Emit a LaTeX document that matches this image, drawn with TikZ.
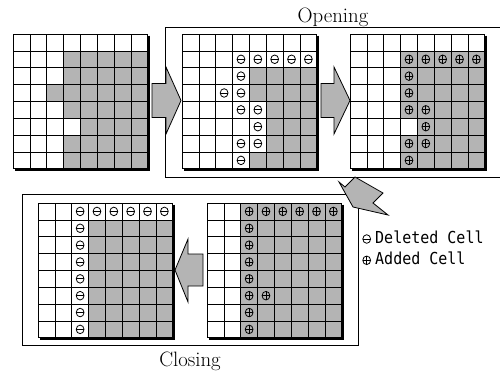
\documentclass[tikz,border=0pt]{standalone}
\usepackage{fontspec}
\newfontfamily\legfont{DejaVu Sans Mono}
\usetikzlibrary{calc}
\definecolor{cellgray}{RGB}{180,180,180}
\def\cs{16.85}
\tikzset{
  gridline/.style={line width=0.7pt, draw=black},
  shadowline/.style={line width=2pt, draw=black},
  symline/.style={line width=0.8pt, draw=black},
  framebox/.style={line width=1pt, draw=black},
  blockarrow/.style={fill=cellgray, draw=black, line width=0.8pt, line join=miter},
  title/.style={font=\fontsize{20.8}{24}\selectfont, inner sep=0pt, anchor=base},
  legtext/.style={font=\legfont\fontsize{15}{18}\selectfont, inner sep=0pt, anchor=base west}
}
\newcommand\msym[1]{\begin{scope}[shift={(#1)}]
  \draw[symline] (0,0) ellipse [x radius=3.9pt, y radius=4.3pt];
  \draw[symline] (-3.9,0) -- (3.9,0);
\end{scope}}
\newcommand\psym[1]{\begin{scope}[shift={(#1)}]
  \draw[symline] (0,0) ellipse [x radius=3.9pt, y radius=4.3pt];
  \draw[symline] (-3.9,0) -- (3.9,0);
  \draw[symline] (0,-4.3) -- (0,4.3);
\end{scope}}
\newcommand\cellgrid[2]{\begin{scope}[shift={(#1)}]
  \foreach \r/\a/\b in {#2} {\fill[cellgray] ({(\a-1)*\cs},{(\r-1)*\cs}) rectangle ({\b*\cs},{\r*\cs});}
  \foreach \i in {0,...,8} {
    \draw[gridline] ({\i*\cs},0) -- ({\i*\cs},{8*\cs});
    \draw[gridline] (0,{\i*\cs}) -- ({8*\cs},{\i*\cs});
  }
  \draw[shadowline] ({8*\cs+0.8},1.5) -- ({8*\cs+0.8},{8*\cs+0.8}) -- (1.5,{8*\cs+0.8});
\end{scope}}
\begin{document}
\begin{tikzpicture}[x=1pt,y=-1pt]
\useasboundingbox (0,0) rectangle (500,373);
% frames
\draw[framebox] (502,27) -- (165,27) -- (165,177) -- (502,177);
\draw[framebox] (22,194) rectangle (358,345);
% grid 1 (original)
\cellgrid{13,34}{2/4/8,3/4/8,4/3/8,5/4/8,6/5/8,7/4/8,8/4/8}
% grid 2 (erosion)
\cellgrid{182,34}{3/5/8,4/5/8,5/6/8,6/6/8,7/6/8,8/5/8}
\begin{scope}[shift={(182,34)}]
\foreach \c/\r in {4/2,5/2,6/2,7/2,8/2,4/3,3/4,4/4,4/5,5/5,5/6,4/7,5/7,4/8}
  {\msym{{(\c-0.5)*\cs},{(\r-0.5)*\cs}}}
\end{scope}
% grid 3 (dilation)
\cellgrid{350,34}{2/4/8,3/4/8,4/4/8,5/4/8,6/5/8,7/4/8,8/4/8}
\begin{scope}[shift={(350,34)}]
\foreach \c/\r in {4/2,5/2,6/2,7/2,8/2,4/3,4/4,4/5,5/5,5/6,4/7,5/7,4/8}
  {\psym{{(\c-0.5)*\cs},{(\r-0.5)*\cs}}}
\end{scope}
% grid 5 (closing: dilation)
\cellgrid{207,203}{1/3/8,2/3/8,3/3/8,4/3/8,5/3/8,6/3/8,7/3/8,8/3/8}
\begin{scope}[shift={(207,203)}]
\foreach \c/\r in {3/1,4/1,5/1,6/1,7/1,8/1,3/2,3/3,3/4,3/5,3/6,3/7,3/8,4/6}
  {\psym{{(\c-0.5)*\cs},{(\r-0.5)*\cs}}}
\end{scope}
% grid 4 (closing: erosion)
\cellgrid{38,203}{2/4/8,3/4/8,4/4/8,5/4/8,6/4/8,7/4/8,8/4/8}
\begin{scope}[shift={(38,203)}]
\foreach \c/\r in {3/1,4/1,5/1,6/1,7/1,8/1,3/2,3/3,3/4,3/5,3/6,3/7,3/8}
  {\msym{{(\c-0.5)*\cs},{(\r-0.5)*\cs}}}
\end{scope}
% block arrows
\coordinate (a1) at (181,100.5);
\draw[blockarrow] (152,83.5) -- (166,83.5) -- (166,67) -- (a1) -- (166,134) -- (166,117.5) -- (152,117.5) -- cycle;
\coordinate (a2) at (350,100.5);
\draw[blockarrow] (321,83.5) -- (334,83.5) -- (334,67) -- (a2) -- (334,134) -- (334,117.5) -- (321,117.5) -- cycle;
\coordinate (a3) at (175,270);
\draw[blockarrow] (203,254) -- (188,254) -- (188,239) -- (a3) -- (188,302) -- (188,286) -- (203,286) -- cycle;
\coordinate (a4) at (353,207);
\draw[blockarrow] (355,177) -- (383,193) -- (373,203) -- (388,215) -- (a4) -- (339,182) -- (345,187) -- cycle;
% titles
\node[title] (opening) at (333,22.7) {Opening};
\node[title] (closing) at (190,366) {Closing};
% legend
\msym{366.7,239}
\psym{366.7,260.3}
\node[legtext] (deleted) at (375,243.3) {\scalebox{1}[1.1]{Deleted Cell}};
\node[legtext] (added) at (375,264.3) {\scalebox{1}[1.1]{Added Cell}};
\end{tikzpicture}
\end{document}
